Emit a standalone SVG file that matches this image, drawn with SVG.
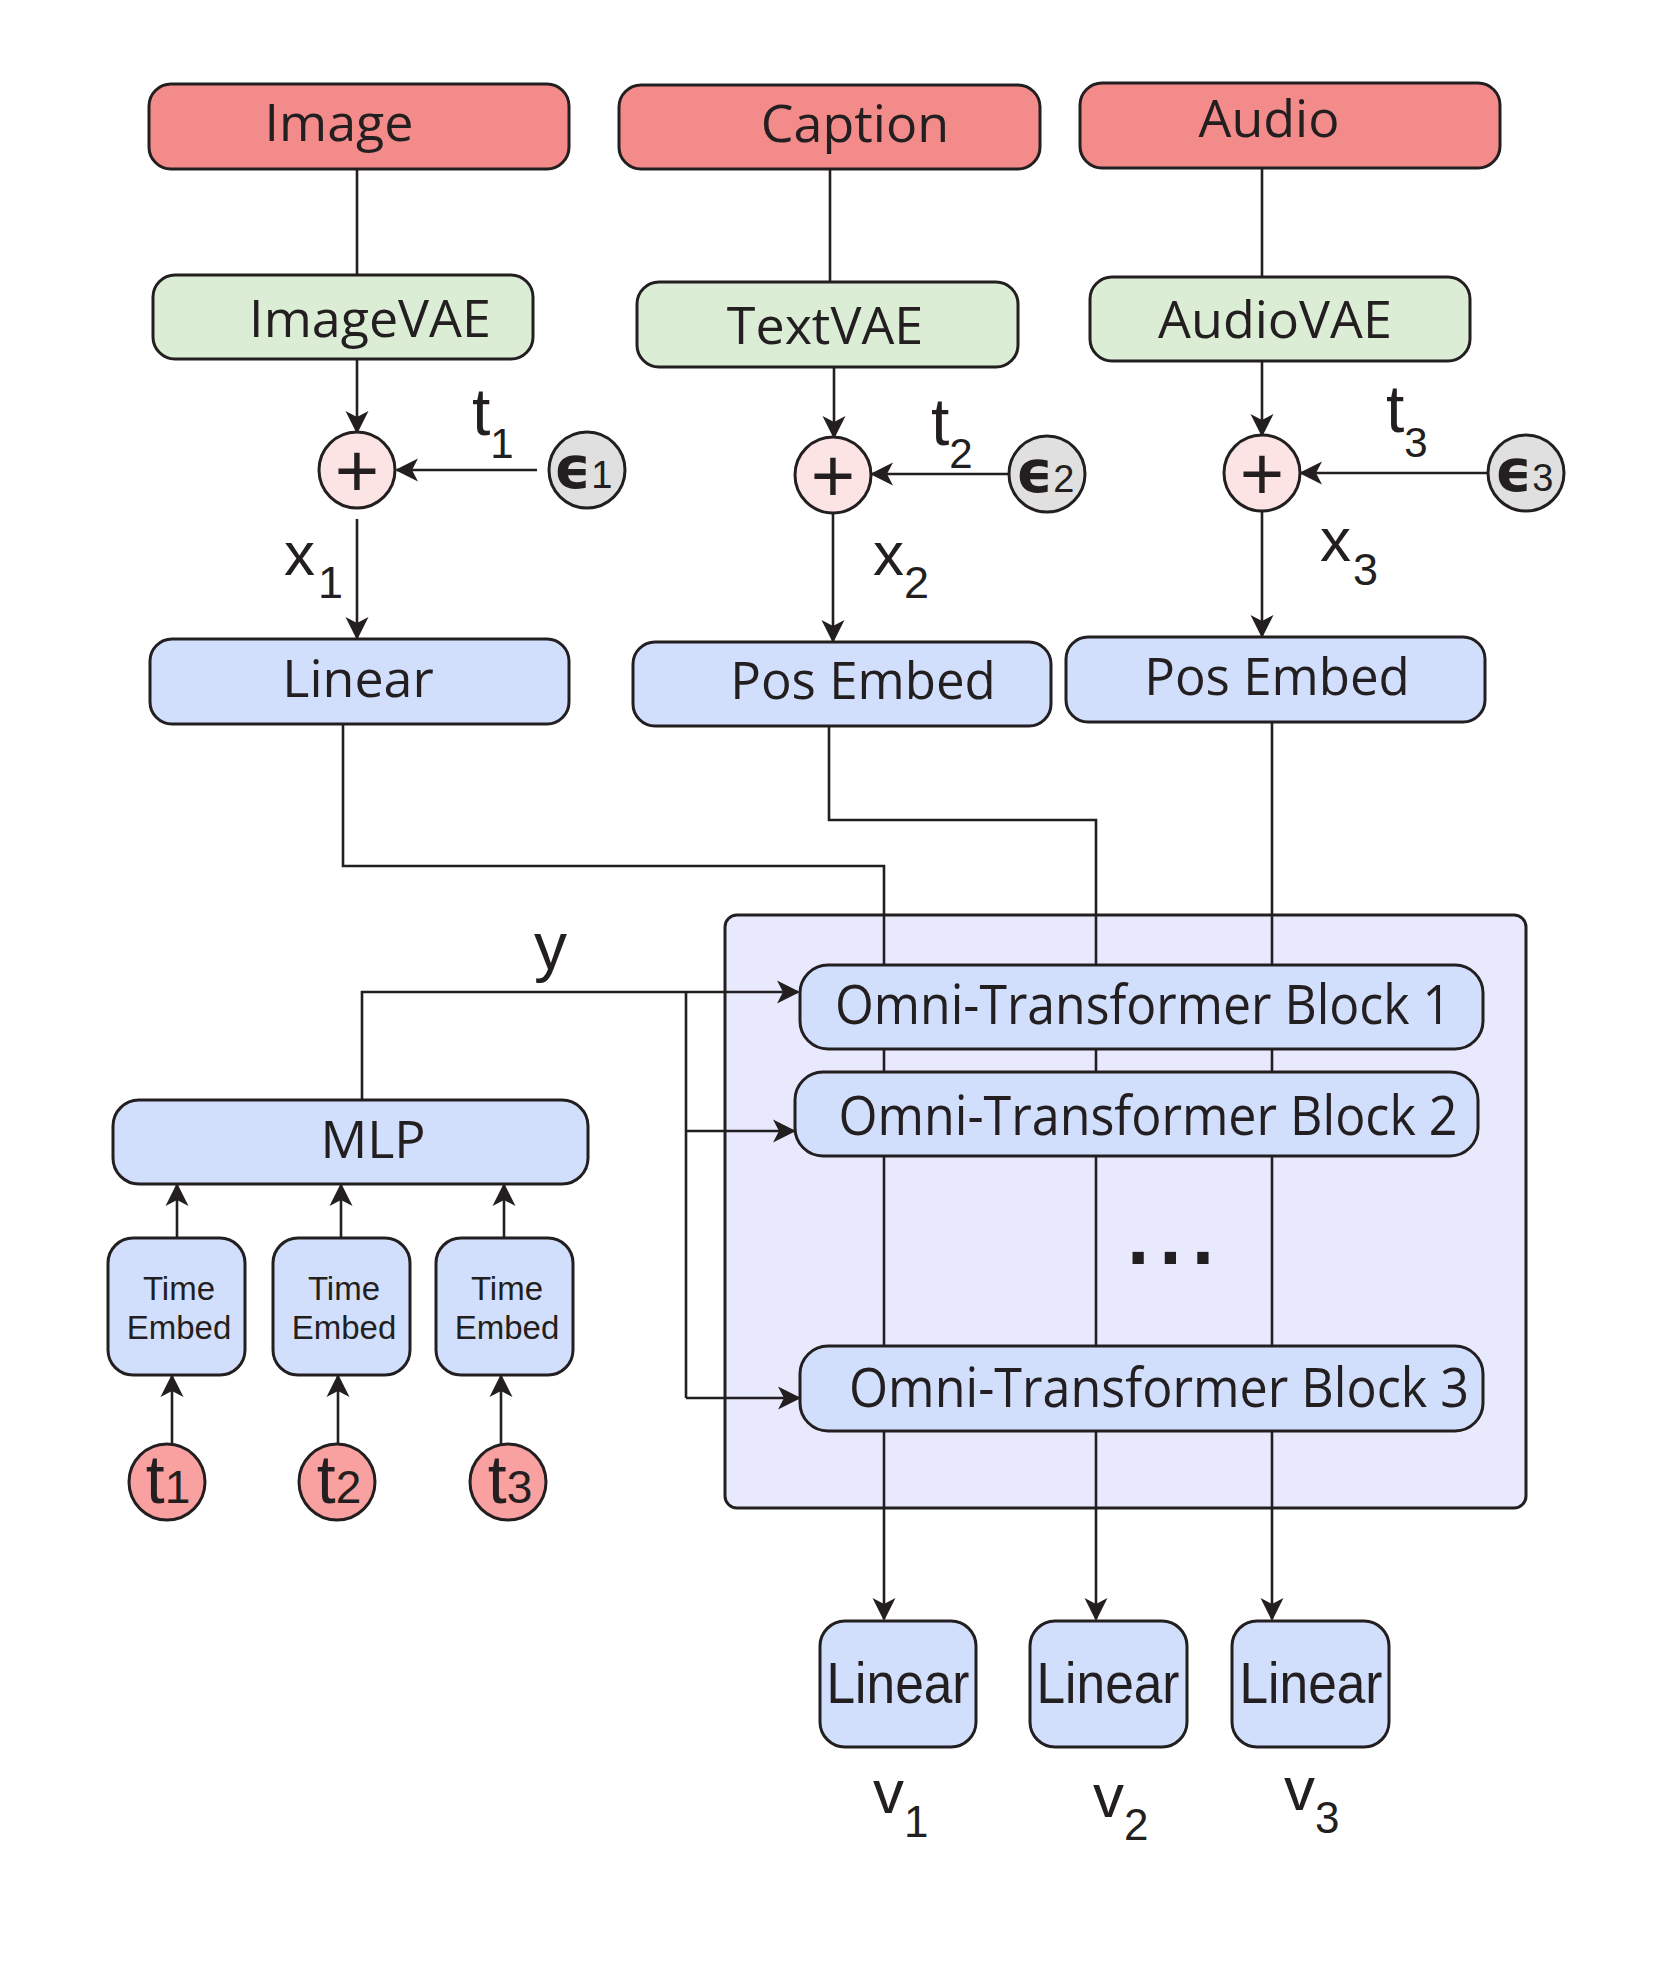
<svg xmlns="http://www.w3.org/2000/svg" width="1660" height="1984" viewBox="0 0 1660 1984">
<style>
.box{stroke:#231F20;stroke-width:3}
.red{fill:#F48B8B}
.green{fill:#DCEDD5}
.blue{fill:#D2DFFC}
.cont{fill:#E8E9FC;stroke:#231F20;stroke-width:3}
.plus{fill:#FDE4E4;stroke:#231F20;stroke-width:3}
.eps{fill:#E0E0E0;stroke:#231F20;stroke-width:3}
.tc{fill:#F9A0A0;stroke:#231F20;stroke-width:3}
.lbl{font-family:"Open Sans","Noto Sans",sans-serif;fill:#231F20;text-anchor:middle}
.ar{font-family:"Liberation Sans",Arial,sans-serif;fill:#231F20}
.ep{font-family:"DejaVu Sans",sans-serif;font-weight:bold;font-size:58px}
.wire{fill:none;stroke:#231F20;stroke-width:2.6}
.arrow{fill:none;stroke:#231F20;stroke-width:2.6;marker-end:url(#ah)}
</style>
<defs>
<marker id="ah" viewBox="-22 -12 26 24" refX="0" refY="0" markerWidth="26" markerHeight="24" markerUnits="userSpaceOnUse" orient="auto">
<path d="M2,0 L-21,-11.5 L-15,0 L-21,11.5 Z" fill="#231F20"/>
</marker>
</defs>
<rect width="1660" height="1984" fill="#ffffff"/>

<g id="container">
<rect class="cont" x="725" y="915" width="801" height="593" rx="12"/>
</g>

<g id="connectors">
<path class="wire" d="M357,169 V275"/>
<path class="wire" d="M830,169 V282"/>
<path class="wire" d="M1262,168 V277"/>
<path class="arrow" d="M357,359 V432"/>
<path class="arrow" d="M834,367 V437"/>
<path class="arrow" d="M1262,361 V435"/>
<path class="arrow" d="M537,470 H397"/>
<path class="arrow" d="M1010,474 H872"/>
<path class="arrow" d="M1487,473 H1301"/>
<path class="arrow" d="M357,519 V638"/>
<path class="arrow" d="M833,513 V641"/>
<path class="arrow" d="M1262,511 V636"/>
<path class="arrow" d="M343,724 V866 H884 V1619"/>
<path class="arrow" d="M829,726 V820 H1096 V1619"/>
<path class="arrow" d="M1272,722 V1619"/>
<path class="arrow" d="M362,1100 V992 H798"/>
<path class="wire" d="M686,992 V1398"/>
<path class="arrow" d="M686,1131 H794"/>
<path class="arrow" d="M686,1398 H799"/>
<path class="arrow" d="M177,1238 V1185"/>
<path class="arrow" d="M341,1238 V1185"/>
<path class="arrow" d="M504,1238 V1185"/>
<path class="arrow" d="M172,1444 V1376"/>
<path class="arrow" d="M338,1444 V1376"/>
<path class="arrow" d="M501,1444 V1376"/>
</g>

<g id="image">
<rect class="box red" x="149" y="84" width="420" height="85" rx="22"/>
<text class="lbl" x="339" y="141" font-size="52">Image</text>
</g>
<g id="caption">
<rect class="box red" x="619" y="85" width="421" height="84" rx="22"/>
<text class="lbl" x="855" y="142" font-size="52">Caption</text>
</g>
<g id="audio">
<rect class="box red" x="1080" y="83" width="420" height="85" rx="22"/>
<text class="lbl" x="1269" y="137" font-size="52">Audio</text>
</g>

<g id="imagevae">
<rect class="box green" x="153" y="275" width="380" height="84" rx="22"/>
<text class="lbl" x="370" y="337" font-size="52">ImageVAE</text>
</g>
<g id="textvae">
<rect class="box green" x="637" y="282" width="381" height="85" rx="22"/>
<text class="lbl" x="825" y="344" font-size="52">TextVAE</text>
</g>
<g id="audiovae">
<rect class="box green" x="1090" y="277" width="380" height="84" rx="22"/>
<text class="lbl" x="1275" y="338" font-size="52">AudioVAE</text>
</g>

<g id="plus1">
<circle class="plus" cx="357" cy="470" r="38"/>
<text class="ar" x="357" y="497" font-size="76" text-anchor="middle">+</text>
</g>
<g id="plus2">
<circle class="plus" cx="833" cy="475" r="38"/>
<text class="ar" x="833" y="502" font-size="76" text-anchor="middle">+</text>
</g>
<g id="plus3">
<circle class="plus" cx="1262" cy="473" r="38"/>
<text class="ar" x="1262" y="500" font-size="76" text-anchor="middle">+</text>
</g>

<g id="eps1">
<circle class="eps" cx="587" cy="470" r="38"/>
<text class="ar" x="583" y="488" text-anchor="middle"><tspan class="ep">ϵ</tspan><tspan font-size="38">1</tspan></text>
</g>
<g id="eps2">
<circle class="eps" cx="1047" cy="474" r="38"/>
<text class="ar" x="1045" y="492" text-anchor="middle"><tspan class="ep">ϵ</tspan><tspan font-size="38">2</tspan></text>
</g>
<g id="eps3">
<circle class="eps" cx="1526" cy="473" r="38"/>
<text class="ar" x="1524" y="491" text-anchor="middle"><tspan class="ep">ϵ</tspan><tspan font-size="38">3</tspan></text>
</g>

<g id="labels">
<text class="ar" x="472" y="435" font-size="66">t<tspan font-size="42" dy="23">1</tspan></text>
<text class="ar" x="931" y="445" font-size="66">t<tspan font-size="42" dy="23">2</tspan></text>
<text class="ar" x="1386" y="432" font-size="66">t<tspan font-size="42" dy="25">3</tspan></text>
<text class="ar" x="284" y="575" font-size="62">x<tspan font-size="45" dy="23" dx="3">1</tspan></text>
<text class="ar" x="873" y="575" font-size="62">x<tspan font-size="45" dy="23">2</tspan></text>
<text class="ar" x="1320" y="561" font-size="62">x<tspan font-size="45" dy="24" dx="2">3</tspan></text>
<text class="ar" x="534" y="969" font-size="66">y</text>
<text class="ar" x="873" y="1813" font-size="62">v<tspan font-size="44" dy="24">1</tspan></text>
<text class="ar" x="1093" y="1817" font-size="62">v<tspan font-size="44" dy="23">2</tspan></text>
<text class="ar" x="1284" y="1810" font-size="62">v<tspan font-size="44" dy="23">3</tspan></text>
</g>

<g id="linear-in">
<rect class="box blue" x="150" y="639" width="419" height="85" rx="22"/>
<text class="lbl" x="358" y="697" font-size="52">Linear</text>
</g>
<g id="posembed1">
<rect class="box blue" x="633" y="642" width="418" height="84" rx="22"/>
<text class="lbl" x="863" y="699" font-size="51">Pos Embed</text>
</g>
<g id="posembed2">
<rect class="box blue" x="1066" y="637" width="419" height="85" rx="22"/>
<text class="lbl" x="1277" y="695" font-size="51">Pos Embed</text>
</g>

<g id="block1">
<rect class="box blue" x="800" y="965" width="683" height="84" rx="28"/>
<text class="lbl" x="1143" y="1024" font-size="54" textLength="616" lengthAdjust="spacingAndGlyphs">Omni-Transformer Block 1</text>
</g>
<g id="block2">
<rect class="box blue" x="795" y="1072" width="683" height="84" rx="28"/>
<text class="lbl" x="1148" y="1135" font-size="54" textLength="619" lengthAdjust="spacingAndGlyphs">Omni-Transformer Block 2</text>
</g>
<g id="dots">
<text x="1126" y="1264" font-family="DejaVu Sans,sans-serif" font-weight="bold" font-size="64" letter-spacing="8" fill="#231F20">...</text>
</g>
<g id="block3">
<rect class="box blue" x="800" y="1346" width="683" height="85" rx="28"/>
<text class="lbl" x="1159" y="1407" font-size="54" textLength="620" lengthAdjust="spacingAndGlyphs">Omni-Transformer Block 3</text>
</g>

<g id="mlp">
<rect class="box blue" x="113" y="1100" width="475" height="84" rx="26"/>
<text class="lbl" x="373" y="1158" font-size="52">MLP</text>
</g>

<g id="timeembed1">
<rect class="box blue" x="108" y="1238" width="137" height="137" rx="25"/>
<text class="ar" x="179" y="1300" font-size="33" text-anchor="middle">Time</text>
<text class="ar" x="179" y="1339" font-size="33" text-anchor="middle">Embed</text>
</g>
<g id="timeembed2">
<rect class="box blue" x="273" y="1238" width="137" height="137" rx="25"/>
<text class="ar" x="344" y="1300" font-size="33" text-anchor="middle">Time</text>
<text class="ar" x="344" y="1339" font-size="33" text-anchor="middle">Embed</text>
</g>
<g id="timeembed3">
<rect class="box blue" x="436" y="1238" width="137" height="137" rx="25"/>
<text class="ar" x="507" y="1300" font-size="33" text-anchor="middle">Time</text>
<text class="ar" x="507" y="1339" font-size="33" text-anchor="middle">Embed</text>
</g>

<g id="t1">
<circle class="tc" cx="167" cy="1482" r="38"/>
<text class="ar" x="168" y="1503" text-anchor="middle"><tspan font-size="68">t</tspan><tspan font-size="46">1</tspan></text>
</g>
<g id="t2">
<circle class="tc" cx="337" cy="1482" r="38"/>
<text class="ar" x="339" y="1503" text-anchor="middle"><tspan font-size="68">t</tspan><tspan font-size="46">2</tspan></text>
</g>
<g id="t3">
<circle class="tc" cx="508" cy="1482" r="38"/>
<text class="ar" x="510" y="1503" text-anchor="middle"><tspan font-size="68">t</tspan><tspan font-size="46">3</tspan></text>
</g>

<g id="linear-out1">
<rect class="box blue" x="820" y="1621" width="156" height="126" rx="25"/>
<text class="ar" x="898" y="1703" font-size="58" text-anchor="middle" textLength="143" lengthAdjust="spacingAndGlyphs">Linear</text>
</g>
<g id="linear-out2">
<rect class="box blue" x="1030" y="1621" width="157" height="126" rx="25"/>
<text class="ar" x="1108" y="1703" font-size="58" text-anchor="middle" textLength="143" lengthAdjust="spacingAndGlyphs">Linear</text>
</g>
<g id="linear-out3">
<rect class="box blue" x="1232" y="1621" width="157" height="126" rx="25"/>
<text class="ar" x="1311" y="1703" font-size="58" text-anchor="middle" textLength="143" lengthAdjust="spacingAndGlyphs">Linear</text>
</g>
</svg>
